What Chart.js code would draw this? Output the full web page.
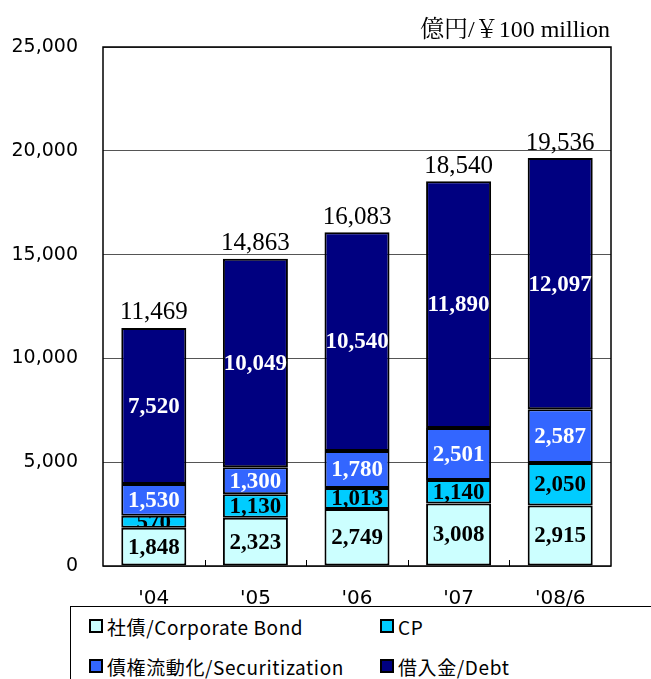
<!DOCTYPE html>
<html>
<head>
<meta charset="utf-8">
<script src="https://cdn.jsdelivr.net/npm/chart.js@4"></script>
<style>
  body { margin: 0; width: 651px; height: 679px; overflow: hidden; background: #fff; position: relative; }
  #wrap { position: absolute; left: 0; top: 0; width: 651px; height: 679px; }
  #unit { position: absolute; right: 41px; top: 13px; font: 24px "Liberation Serif", "Noto Serif CJK JP", serif; color: #000; line-height: 32px; }
  #legend { position: absolute; left: 70px; top: 606px; width: 640px; height: 120px; border: 1px solid #000; background: #fff;
            font: 19px "Noto Sans CJK JP", sans-serif; color: #000; letter-spacing: 0.6px; }
  .item { position: absolute; display: flex; align-items: center; height: 26px; }
  .sw { width: 10px; height: 10px; border: 2px solid #000; margin-right: 4px; }
</style>
</head>
<body>
<div id="wrap"><canvas id="chart" width="651" height="679"></canvas></div>
<div id="unit">億円/￥100 million</div>
<div id="legend"></div>
<script>
// データ（億円）
const categories = ["'04", "'05", "'06", "'07", "'08/6"];
const bondValues = [1848, 2323, 2749, 3008, 2915];
const cpValues = [570, 1130, 1013, 1140, 2050];
const securitizationValues = [1530, 1300, 1780, 2501, 2587];
const debtValues = [7520, 10049, 10540, 11890, 12097];
const totalLabels = [11469, 14863, 16083, 18540, 19536];
const yTicks = [0, 5000, 10000, 15000, 20000, 25000];

const seriesNames = ['社債/Corporate Bond', 'CP', '債権流動化/Securitization', '借入金/Debt'];
const seriesColors = ['#CCFFFF', '#00CCFF', '#3366FF', '#000080'];
const labelColors = ['#000', '#000', '#fff', '#fff'];

const fmt = (v) => v.toLocaleString('en-US');

// ラベル描画
const barLabels = {
    id: 'barLabels',
    afterDatasetsDraw(chart) {
        const ctx = chart.ctx;
        chart.data.datasets.forEach((ds, i) => {
            const meta = chart.getDatasetMeta(i);
            meta.data.forEach((bar, j) => {
                const { x, y, base, width } = bar.getProps(['x', 'y', 'base', 'width'], true);
                ctx.save();
                ctx.beginPath();
                ctx.rect(x - width, Math.min(y, base) + 1, width * 2, Math.abs(base - y) - 2);
                ctx.clip();
                ctx.font = 'bold 23px "Liberation Serif", serif';
                ctx.fillStyle = labelColors[i];
                ctx.textAlign = 'center';
                ctx.textBaseline = 'middle';
                ctx.fillText(fmt(ds.data[j]), x, (y + base) / 2 + 1);
                ctx.restore();
            });
        });
        // 合計
        const topMeta = chart.getDatasetMeta(chart.data.datasets.length - 1);
        ctx.save();
        ctx.font = '25px "Liberation Serif", serif';
        ctx.fillStyle = '#000';
        ctx.textAlign = 'center';
        ctx.textBaseline = 'middle';
        topMeta.data.forEach((bar, j) => {
            ctx.fillText(fmt(totalLabels[j]), bar.x, bar.y - 15);
        });
        ctx.restore();
    },
    afterDraw(chart) {
        const { ctx, chartArea: a } = chart;
        ctx.save();
        ctx.strokeStyle = '#000';
        ctx.lineWidth = 1.5;
        ctx.strokeRect(a.left, a.top, a.right - a.left, a.bottom - a.top);
        // カテゴリ境界の目盛り
        const step = (a.right - a.left) / categories.length;
        ctx.lineWidth = 1;
        for (let i = 1; i < categories.length; i++) {
            const px = Math.round(a.left + step * i) + 0.5;
            ctx.beginPath();
            ctx.moveTo(px, a.bottom);
            ctx.lineTo(px, a.bottom - 6);
            ctx.stroke();
        }
        ctx.restore();
    }
};

new Chart(document.getElementById('chart'), {
    type: 'bar',
    data: {
        labels: categories,
        datasets: [bondValues, cpValues, securitizationValues, debtValues].map((values, i) => ({
            label: seriesNames[i],
            data: values,
            backgroundColor: seriesColors[i],
            borderColor: '#000',
            borderWidth: 2,
            borderSkipped: false,
            barPercentage: 0.64,
            categoryPercentage: 1,
        })),
    },
    options: {
        responsive: false,
        animation: false,
        layout: { padding: { top: 47, right: 40, left: 0, bottom: 0 } },
        plugins: {
            legend: { display: false },
            tooltip: { enabled: false },
        },
        scales: {
            x: {
                stacked: true,
                grid: { display: false },
                border: { display: false },
                ticks: {
                    padding: 13,
                    color: '#000',
                    font: { family: '"DejaVu Sans", sans-serif', size: 20 },
                },
                afterFit: (s) => { s.height = 113; },
            },
            y: {
                stacked: true,
                min: 0,
                max: 25000,
                afterBuildTicks: (s) => { s.ticks = yTicks.map((v) => ({ value: v })); },
                grid: { color: '#555', lineWidth: 1, drawTicks: false },
                border: { display: false },
                ticks: {
                    padding: 25,
                    color: '#000',
                    font: { family: '"DejaVu Sans", sans-serif', size: 19 },
                    callback: (v) => fmt(v),
                },
                afterFit: (s) => { s.width = 103; },
            },
        },
    },
    plugins: [barLabels],
});

// 凡例
const legendEl = document.getElementById('legend');
const legendPos = [[18, 6], [309, 6], [18, 46], [309, 46]];
seriesNames.forEach((name, i) => {
    const item = document.createElement('div');
    item.className = 'item';
    item.style.left = legendPos[i][0] + 'px';
    item.style.top = legendPos[i][1] + 'px';
    item.innerHTML = `<span class="sw" style="background:${seriesColors[i]}"></span><span>${name}</span>`;
    legendEl.appendChild(item);
});
</script>
</body>
</html>
